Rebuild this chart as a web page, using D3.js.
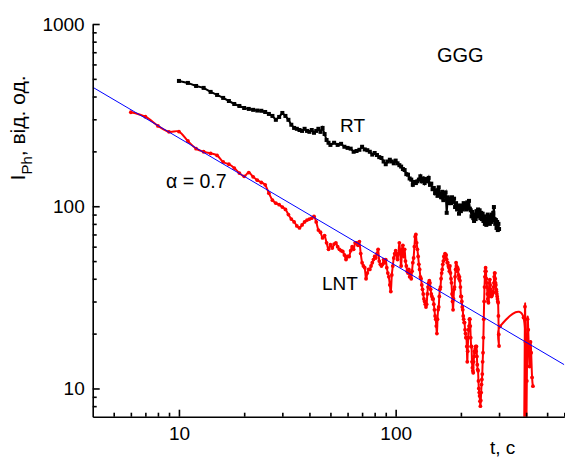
<!DOCTYPE html>
<html>
<head>
<meta charset="utf-8">
<script src="https://cdnjs.cloudflare.com/ajax/libs/d3/7.8.5/d3.min.js"></script>
<style>
  body { margin: 0; background: #fff; }
  svg { display: block; font-family: "Liberation Sans", Arial, sans-serif; }
</style>
</head>
<body>
<svg width="565" height="458"></svg>
<script>
// RT series (black squares)
const rtT = [10,11,12,13,14,15,16,17,18,19,20,21,22,23,24,25,26,27,28,29,30,31,32,33,34,35,36,37,38,39,40,41,42,43,44,45,46,47,48,49,50,
  52,54,56,58,60,62,64,66,68,70,72,74,76,78,80,82,84,86,88,90,92,94,96,98,100,102,104,106,108,110,112,114,116,118,120,122,124,126,128,
  130,132,134,136,138,140,142,144,146,148,150,152,154,156,158,160,162,164,166,168,170,172,174,176,178,180,182,184,186,188,190,192,194,
  196,198,200,202,204,206,208,210,212,214,216,218,220,222,224,226,228,230,232,234,236,238,240,242,244,246,248,250,252,254,256,258,260,
  262,264,266,268,270,272,274,276,278,280,282,284,286,288,290,292,294,296,298,300,302];
const rtI = [487,475,457,446,424,408,393,378,364,355,346,342,338,335,334,329,321,313,298,309,325,313,298,280,269,266,262,259,266,259,256,
  262,253,259,266,256,269,249,231,223,217,
  223,217,220,212,209,207,199,201,204,212,205,203,199,192,196,191,186,184,176,170,176,180,176,172,178,172,168,165,160,158,150,149,142,140,
  131,136,134,137,
  140,146,137,142,134,141,137,143,131,133,124,126,118,122,114,127,117,112,120,108,116,119,92,112,104,110,104,112,106,110,99,104,96,
  101,91,98,94,101,96,104,98,103,96,105,100,107,97,95,88,93,86,83,90,85,94,88,96,89,95,86,92,85,91,83,88,80,
  86,79,84,90,81,86,80,88,82,90,84,92,99,85,80,84,76,82,74,80,75];

// LNT series (red circles)
const lntT = [6,7,8,9,10,11,12,13,14,15,16,17,18,19,20,21,22,23,24,25,26,27,28,29,30,31,32,33,34,35,36,37,38,39,40,41,42,43,44,45,46,
  47,48,49,50,51,52,53,54,55,56,57,58,59,60,61,62,63,64,65,66,67,68,69,70,71,72,73,74,75,76,77,78,79,80,81,82,83,84,85,86,87,88,89,90,
  91,92,93,94,95,96,97,98,99,100,101,102,103,104,105,106,107,108,109,110,111,112,113,114,115,116,117,118,119,120,121,122,123,124,125,
  126,127,128,129,130,131,132,133,134,135,136,137,138,139,140,141,142,143,144,145,146,147,148,149,150,151,152,153,154,155,156,157,158,
  159,160,161,162,163,164,165,166,167,168,169,170,171,172,173,174,175,176,177,178,179,180,181,182,183,184,185,186,187,188,189,190,191,
  192,193,194,195,196,197,198,199,200,201,202,203,204,205,206,207,208,209,210,211,212,213,214,215,216,217,218,219,220,221,222,223,224,
  225,226,227,228,229,230,231,232,233,234,235,236,237,238,239,240,241,242,243,244,245,246,247,248,249,250,251,252,253,254,255,256,257,
  258,259,260,261,262,263,264,265,266,267,268,269,270,271,272,273,274,275,276,277,278,279,280,281,282,283,284,285,286,287,288,289,290,
  291,292,293,294,295,296,297,298,299,300,303,389,392,395,397,400,403,406,409,412,415,419,422,426,430];
const lntI = [328,310,276,256,257,228,207,199,195,190,175,170,162,152,146,153,145,139,135,131,118,108,104,102,99,96,90,85,82,78,76,79,
  82,84,85,86,88,82,74,72,67,69,63,58,61.5,59,62,63,60,58,57,56.5,54,51,53,53,57,60,58,63,63,61,64,55,49,47,46,40,43,45,45,47,49,51,53,
  52,55,58,50,48,47,48,51,49,51,46,43,41,37,34,42,47,52,55,57,54,51,55,63,55,47,58,61,53,58,50,47,44,43,45,41,43,40,44,49,52,60,68,70,
  63,58,53,48,45,41,40,37,35,33,31,30,29,28,29,33,36,38,39,38,35,33,32,31,31,29,27,25,24,22,20,24,27,28,32,35,36,40,43,45,48,50,53,53,
  55,52,54,51,49,49,47,46,44,47,43,40,38,33,30,27,31,35,36,41,45,49,47,44,46,45,42,40,41,39,36,32,32,30,28,27,25,24,23,23,21,20,19,19,
  17,14,16,19,21,22,24,24,22,19,17,17,14,13,12.5,12.2,14,15,16,15.7,16.5,17,16,17,15,13.5,12.7,12.5,11,10,9.5,9.1,8.5,8,8.6,9.5,10.5,
  11.2,12,14,15.7,19,24,30,36,41,44,46,44,40,38,36,33,31,30,29.5,32,35,38,39.6,37,35,33,32,32,32.5,33,33.5,34,33.5,36,38,41,43,43,40,
  38,37,35,34,33,32,31,30,29.5,25,19.8,17.1,21.9,24.5,6.8,28.1,18,5.5,11,24,21,16,13.2,18,15.7,11.5,10.3];

// power-law fit line (alpha = 0.7), end points
const fitT = [4, 600];
const fitI = [450, 13.5];

const xMajor = [10, 100];
const xMinor = [5,6,7,8,9,20,30,40,50,60,70,80,90,200,300,400,500,600];
const yMajor = [10, 100, 1000];
const yMinor = [8,9,20,30,40,50,60,70,80,90,200,300,400,500,600,700,800,900];

const svg = d3.select("svg");
const pLeft = 92.7, pRight = 564.3, pTop = 24, pBottom = 416.7;

const x = d3.scaleLog().domain([4, 600]).range([pLeft, pRight]);
const y = d3.scaleLog().domain([7, 1000]).range([pBottom, pTop]);

svg.append("defs").append("clipPath").attr("id", "plot")
  .append("rect").attr("x", pLeft).attr("y", pTop).attr("width", pRight - pLeft).attr("height", pBottom - pTop);

const plot = svg.append("g").attr("clip-path", "url(#plot)");

// RT
const rt = rtT.map((t, i) => [t, rtI[i]]);
plot.append("path")
  .datum(rt)
  .attr("fill", "none")
  .attr("stroke", "#000")
  .attr("stroke-width", 2)
  .attr("d", d3.line().x(d => x(d[0])).y(d => y(d[1])));
plot.append("g").selectAll("rect")
  .data(rt)
  .join("rect")
  .attr("x", d => x(d[0]) - 2)
  .attr("y", d => y(d[1]) - 2)
  .attr("width", 4)
  .attr("height", 4)
  .attr("fill", "#000");

// LNT
const lnt = lntT.map((t, i) => [t, lntI[i]]);
plot.append("path")
  .datum(lnt)
  .attr("fill", "none")
  .attr("stroke", "#ff0000")
  .attr("stroke-width", 2)
  .attr("d", d3.line().curve(d3.curveCatmullRom.alpha(0)).x(d => x(d[0])).y(d => y(d[1])));
plot.append("g").selectAll("circle")
  .data(lnt)
  .join("circle")
  .attr("cx", d => x(d[0]))
  .attr("cy", d => y(d[1]))
  .attr("r", 1.9)
  .attr("fill", "#ff0000");

// fit
plot.append("path")
  .datum(fitT.map((t, i) => [t, fitI[i]]))
  .attr("fill", "none")
  .attr("stroke", "#0000ff")
  .attr("stroke-width", 1)
  .attr("d", d3.line().x(d => x(d[0])).y(d => y(d[1])));

// axes - ticks pointing inward
const fmt = d => String(d);
const gx = svg.append("g").attr("transform", `translate(0,${pBottom})`);
gx.call(d3.axisBottom(x).tickValues(xMajor).tickFormat(fmt).tickSize(-7).tickSizeOuter(0).tickPadding(10));
const gx2 = svg.append("g").attr("transform", `translate(0,${pBottom})`);
gx2.call(d3.axisBottom(x).tickValues(xMinor).tickFormat("").tickSize(-4).tickSizeOuter(0));
gx2.select(".domain").remove();

const gy = svg.append("g").attr("transform", `translate(${pLeft},0)`);
gy.call(d3.axisLeft(y).tickValues(yMajor).tickFormat(fmt).tickSize(-7).tickSizeOuter(0).tickPadding(8));
const gy2 = svg.append("g").attr("transform", `translate(${pLeft},0)`);
gy2.call(d3.axisLeft(y).tickValues(yMinor).tickFormat("").tickSize(-4).tickSizeOuter(0));
gy2.select(".domain").remove();

svg.selectAll(".domain, .tick line").attr("stroke", "#000").attr("stroke-width", 1.6);
svg.selectAll(".tick text")
  .attr("font-family", "'Liberation Sans', Arial, sans-serif")
  .attr("font-size", 19)
  .attr("fill", "#000");

// labels
const label = (tx, ty, s, size) => svg.append("text")
  .attr("x", tx).attr("y", ty)
  .attr("font-size", size)
  .attr("fill", "#000")
  .text(s);

label(437, 62, "GGG", 20);
label(340, 132, "RT", 19);
label(322, 290, "LNT", 19);
label(166, 188, "\u03b1 = 0.7", 19.5);
label(490, 454, "t, c", 19);

const yt = svg.append("text")
  .attr("transform", "translate(25,128) rotate(-90)")
  .attr("text-anchor", "middle")
  .attr("font-size", 21)
  .attr("fill", "#000");
yt.append("tspan").text("I");
yt.append("tspan").attr("font-size", 15).attr("dy", 7).text("Ph");
yt.append("tspan").attr("dy", -7).text(", від. од.");
</script>
</body>
</html>
